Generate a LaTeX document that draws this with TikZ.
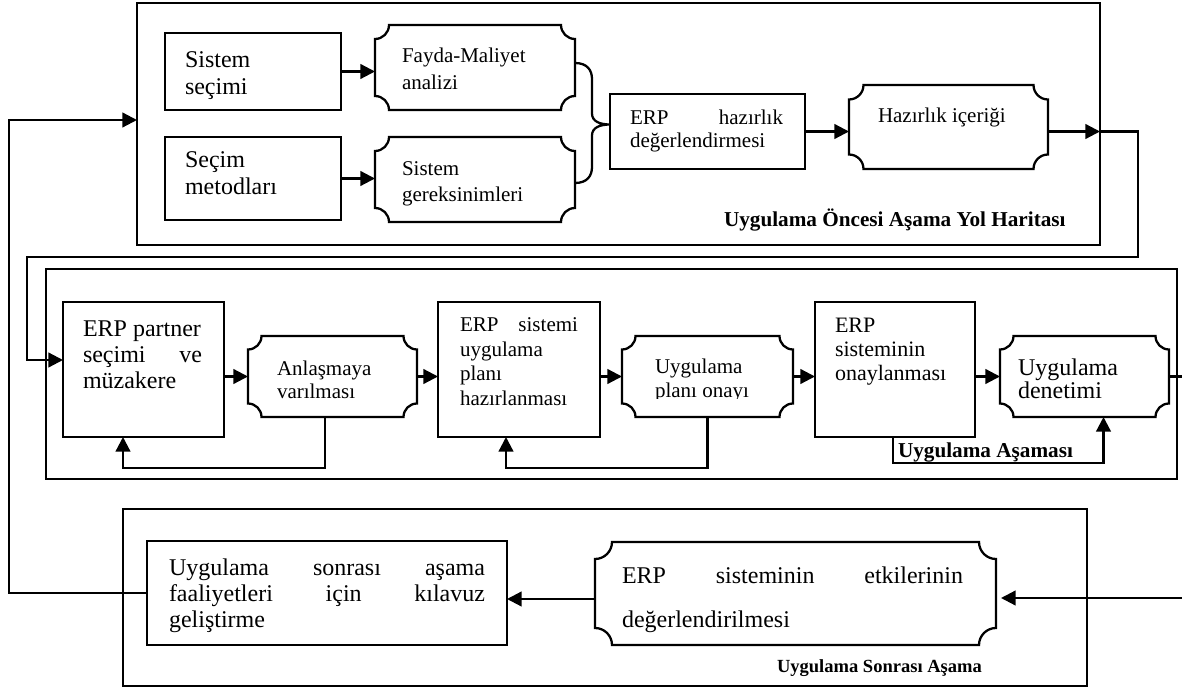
\documentclass[tikz,border=0pt]{standalone}
\usepackage{fontspec}
\setmainfont{Liberation Serif}
\usetikzlibrary{arrows.meta,calc,fit}

% one drawing unit = one pixel of the layout grid
\newdimen\pxu \pxu=0.75pt
% a justified line of given width (in grid units)
\newcommand\jline[2]{\hbox to #1\pxu{#2}}

\tikzset{
  lw/.style={line width=1.7pt},
  frame/.style={draw, lw, rectangle, inner sep=0pt, outer sep=0pt},
  hold/.style={draw=none, rectangle, inner sep=0pt, outer sep=0pt},
  arr/.style={lw, -{Triangle[length=11pt,width=11pt]}},
  conn/.style={lw},
  % text blocks are placed by the baseline of their last line
  txt/.style={inner sep=0pt, outer sep=0pt, anchor=base west, align=left},
  fs/.style n args={2}{font=\fontsize{#1}{#2}\selectfont},
  lbl/.style n args={2}{txt, font=\bfseries\fontsize{#1}{#2}\selectfont},
}

% plaque outline (concave corners) around a placeholder node
\newcommand\plaque[2]{%
  \pgfmathsetmacro\plk{0.5523*#2}%
  \draw[lw]
   ([shift={(#2,0)}]#1.north west) -- ([shift={(-#2,0)}]#1.north east)
   .. controls ([shift={(-#2,\plk)}]#1.north east) and ([shift={(-\plk,#2)}]#1.north east) .. ([shift={(0,#2)}]#1.north east)
   -- ([shift={(0,-#2)}]#1.south east)
   .. controls ([shift={(-\plk,-#2)}]#1.south east) and ([shift={(-#2,-\plk)}]#1.south east) .. ([shift={(-#2,0)}]#1.south east)
   -- ([shift={(#2,0)}]#1.south west)
   .. controls ([shift={(#2,-\plk)}]#1.south west) and ([shift={(\plk,-#2)}]#1.south west) .. ([shift={(0,-#2)}]#1.south west)
   -- ([shift={(0,#2)}]#1.north west)
   .. controls ([shift={(\plk,#2)}]#1.north west) and ([shift={(#2,\plk)}]#1.north west) .. ([shift={(#2,0)}]#1.north west)
   -- cycle;
}

\begin{document}
\begin{tikzpicture}[x=0.75pt,y=-0.75pt]
\useasboundingbox (0,0) rectangle (1182,688);

% ---- phase frames
\node[frame, fit={(137,3) (1100,245)}] (pre) {};
\node[frame, fit={(46,269) (1177,479)}] (impl) {};
\node[frame, fit={(123,509) (1087,686)}] (post) {};

% ---- pre-implementation phase
\node[frame, fit={(165,33) (341,110)}] (ss) {};
\node[frame, fit={(165,137) (341,220)}] (sm) {};
\node[hold, fit={(375,25) (575,110)}] (fm) {};
\node[hold, fit={(375,137) (575,222)}] (sg) {};
\node[frame, fit={(610,94) (805,169)}] (er) {};
\node[hold, fit={(849,85) (1048,169)}] (hz) {};
\plaque{fm}{14}
\plaque{sg}{14}
\plaque{hz}{14.5}

\node[txt, fs={18}{20.25}] (t-ss) at (185,95) {Sistem\\seçimi};
\node[txt, fs={18}{20.25}] (t-sm) at (185,195) {Seçim\\metodları};
\node[txt, fs={15.75}{20.25}] (t-fm) at (402,90) {Fayda-Maliyet\\analizi};
\node[txt, fs={15.75}{19.5}] (t-sg) at (402,202) {Sistem\\gereksinimleri};
\node[txt, fs={15.75}{17.25}] (t-er) at (630,148) {\jline{153}{ERP\hfill hazırlık}\\değerlendirmesi};
\node[txt, fs={15.75}{18}] (t-hz) at (878,123) {Hazırlık içeriği};
\node[lbl={15.9}{18}] (lab-pre) at (724,227) {Uygulama Öncesi Aşama Yol Haritası};

\draw[arr] (ss.east) -- (ss.east -| fm.west);
\draw[arr] (sm.east) -- (sm.east -| sg.west);

% brace joining the two analyses into the readiness assessment
\coordinate (bt) at ([shift={(0,-4.5)}]fm.east);
\coordinate (bb) at ([shift={(0,3.5)}]sg.east);
\coordinate (bp) at ([shift={(0,-7)}]er.west);
\draw[lw] (bt) .. controls +(12,0) and +(0,-9) .. ($(bt)+(17,16)$)
  -- ($(bp)+(-18,-11)$) .. controls +(0,8) and +(-10,0) .. (bp)
  .. controls +(-10,0) and +(0,-8) .. ($(bp)+(-18,11)$)
  -- ($(bb)+(17,-16)$) .. controls +(0,9) and +(12,0) .. (bb);

\draw[arr] (er.east) -- (er.east -| hz.west);
\coordinate (x1) at (er.east -| pre.east);
\draw[arr] (er.east -| hz.east) -- (x1);

% ---- implementation phase
\node[frame, fit={(63,302) (224,437)}] (ep) {};
\node[hold, fit={(248,336) (417,417)}] (ap) {};
\node[frame, fit={(438,302) (600,437)}] (es) {};
\node[hold, fit={(622,336) (793,417)}] (uo) {};
\node[frame, fit={(815,302) (975,437)}] (en) {};
\node[hold, fit={(1000,336) (1169,417)}] (ud) {};
\plaque{ap}{13.5}
\plaque{uo}{13.5}
\plaque{ud}{13.5}

\node[txt, fs={18}{19.5}] (t-ep) at (83,388) {ERP partner\\\jline{119}{seçimi\hfill ve}\\müzakere};
\node[txt, fs={15.75}{17.25}] (t-ap) at (277,398) {Anlaşmaya\\varılması};
\node[txt, fs={15.75}{18.3}] (t-es) at (460,405) {\jline{118}{ERP\hfill sistemi}\\uygulama\\planı\\hazırlanması};
\begin{scope}
  \clip ([shift={(0,-18.5)}]uo.south west) rectangle (uo.north east);
  \node[txt, fs={15.75}{18}] (t-uo) at (655,397) {Uygulama\\planı onayı};
\end{scope}
\node[txt, fs={16.5}{18}] (t-en) at (835,380) {ERP\\sisteminin\\onaylanması};
\node[txt, fs={18}{17.25}] (t-ud) at (1018,398) {Uygulama\\denetimi};
\node[lbl={15.9}{18}] (lab-impl) at (898,457) {Uygulama Aşaması};

% link from the pre-implementation phase
\coordinate (r1) at (1138,257);
\coordinate (l1) at (27,257);
\coordinate (epin) at ([shift={(0,-9.5)}]ep.west);
\draw[arr] (x1) -| (r1) -- (l1) |- (epin);

\draw[arr] (ap.west -| ep.east) -- (ap.west);
\draw[arr] (ap.east) -- (ap.east -| es.west);
\draw[arr] (uo.west -| es.east) -- (uo.west);
\draw[arr] (uo.east) -- (uo.east -| en.west);
\draw[arr] (ud.west -| en.east) -- (ud.west);
\coordinate (edgeR) at (1182,0);
\draw[conn] (ud.east) -- (ud.east -| edgeR);

% feedback loops
\draw[arr] ([shift={(-7.5,0)}]ap.south) -- ++(0,51) -| ([shift={(-20.5,0)}]ep.south);
\draw[arr] (uo.south) -- ++(0,51) -| ([shift={(-13,0)}]es.south);
\draw[arr] ([shift={(-2,0)}]en.south) -- ++(0,26) -| ([shift={(19,0)}]ud.south);

% ---- post-implementation phase
\node[frame, fit={(147,541) (507,645)}] (us) {};
\node[hold, fit={(595,542) (996,645)}] (etk) {};
\plaque{etk}{17}

\node[txt, fs={18}{19.5}] (t-us) at (169,627) {\jline{316}{Uygulama\hfill sonrası\hfill aşama}\\\jline{316}{faaliyetleri\hfill için\hfill kılavuz}\\geliştirme};
\node[txt, fs={18}{33}] (t-etk) at (622,627) {\jline{341}{ERP\hfill sisteminin\hfill etkilerinin}\\değerlendirilmesi};
\node[lbl={13.9}{16}] (lab-post) at (777,672) {Uygulama Sonrası Aşama};

\coordinate (inR) at (1182,598);
\coordinate (etkin) at ($(inR -| etk.east)+(5,0)$);
\draw[arr] (inR) -- (etkin);
\coordinate (etkout) at ([shift={(0,5.5)}]etk.west);
\draw[arr] (etkout) -- (etkout -| us.east);

% loop back to the pre-implementation phase
\coordinate (lp) at (9,120);
\draw[arr] (us.west) -| (lp) -- (lp -| pre.west);

\end{tikzpicture}
\end{document}
